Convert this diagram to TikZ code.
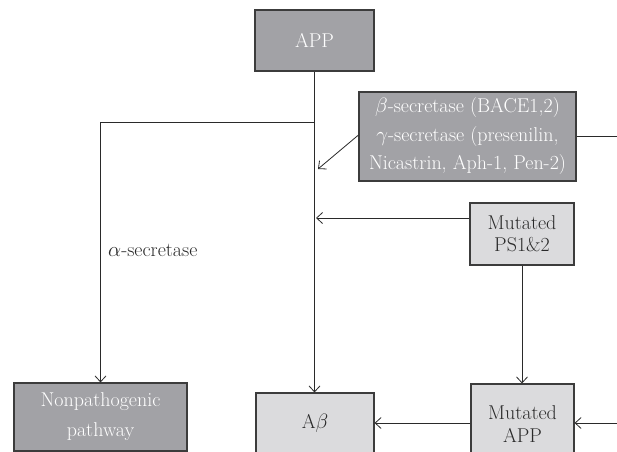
\documentclass[tikz,border=0pt]{standalone}
\usetikzlibrary{arrows.meta,calc}
\definecolor{boxdark}{HTML}{A2A2A6}
\definecolor{boxlight}{HTML}{DBDBDD}
\definecolor{edgecol}{HTML}{3C3C3C}
\definecolor{txtdark}{HTML}{2A2A2A}
\definecolor{linecol}{HTML}{2A2A2A}
\tikzset{
  darkbox/.style={draw=edgecol,line width=1.1pt,fill=boxdark,text=white,align=center,inner sep=0pt},
  lightbox/.style={draw=edgecol,line width=1.1pt,fill=boxlight,text=txtdark,align=center,inner sep=0pt},
  conn/.style={draw=linecol,line width=0.8pt},
  arr/.style={conn,-{Straight Barb[length=6pt,width=11pt,line width=0.8pt]}},
}
\begin{document}
\begin{tikzpicture}[x=1pt,y=-1pt]
\useasboundingbox (0,0) rectangle (617,451);
\clip (0,0) rectangle (617,451);
\fill[white] (0,0) rectangle (617,451);
% nodes
\node[darkbox,minimum width=119pt,minimum height=61pt,font=\fontsize{20}{22}\selectfont] (app) at (314.5,40.5) {APP};
\node[darkbox,minimum width=217pt,minimum height=89pt,font=\fontsize{20}{28.5}\selectfont] (sec) at (467.5,136.5)
  {$\beta$-secretase (BACE1,2)\\ $\gamma$-secretase (presenilin,\\ Nicastrin, Aph-1, Pen-2)};
\node[lightbox,minimum width=104pt,minimum height=62pt,font=\fontsize{20}{22}\selectfont] (ps) at (522,234) {Mutated\\ PS1\&2};
\node[darkbox,minimum width=173pt,minimum height=68pt,font=\fontsize{20}{30}\selectfont] (np) at (100.5,417) {Nonpathogenic\\ pathway};
\node[lightbox,minimum width=118pt,minimum height=60pt,font=\fontsize{20}{22}\selectfont] (ab) at (315,423) {A$\beta$};
\node[lightbox,minimum width=103pt,minimum height=80pt,font=\fontsize{20}{23}\selectfont] (mapp) at (522.5,424) {Mutated\\ APP};
\node[text=txtdark,anchor=west,inner sep=0pt,font=\fontsize{20}{22}\selectfont] (alpha) at (108,250) {$\alpha$-secretase};
% coordinates
\coordinate (j1) at (314.5,122);
\coordinate (t1) at (318,169);
\coordinate (t2) at (316,218);
\coordinate (r1) at (620,136);
\coordinate (r2) at (620,423);
% connectors
\draw[arr] (app.south) -- (app.south |- ab.north);
\draw[arr] (j1) -| (np.north);
\draw[arr] ($(sec.west)+(0,-1.5)$) -- (t1);
\draw[conn] (sec.east) -- (sec.east -| r1);
\draw[arr] (t2 -| ps.west) -- (t2);
\draw[arr] (ps.south) -- (ps.south |- mapp.north);
\draw[arr] (mapp.west |- ab.east) -- (ab.east);
\draw[arr] (r2) -- (r2 -| mapp.east);
\end{tikzpicture}
\end{document}
